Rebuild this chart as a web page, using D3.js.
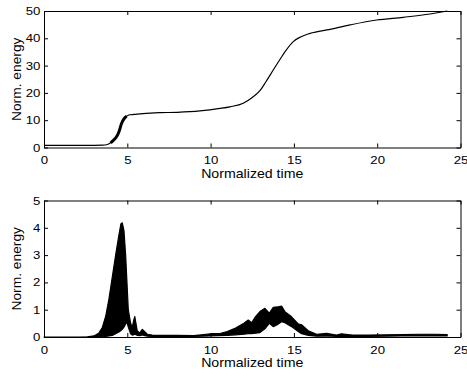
<!DOCTYPE html>
<html>
<head>
<meta charset="utf-8">
<script src="https://cdn.jsdelivr.net/npm/d3@7"></script>
<style>
  html, body { margin: 0; padding: 0; background: #fff; }
  svg { display: block; }
  text { font-family: "Liberation Sans", Arial, Helvetica, sans-serif; fill: #000; }
</style>
</head>
<body>
<script>
let width = 467;
let height = 377;

// top panel: accumulated energy
let energyT = [0, 3.0, 3.5, 3.76, 4.0, 4.2, 4.36, 4.5, 4.66, 4.8, 4.96, 5.16, 5.4, 5.76, 6.4, 6.96, 8.0, 9.36, 10.56, 11.16,
  11.96, 12.5, 12.96, 13.3, 13.76, 14.2, 14.47, 14.96, 15.4, 15.97, 17.17, 18.37, 19.97, 21.57, 23.17, 24.2];
let energy = [0.8, 0.8, 0.85, 1.0, 1.7, 2.8, 4.0, 5.8, 8.9, 10.5, 11.5, 12.0, 12.1, 12.3, 12.6, 12.75, 12.9, 13.4, 14.3, 14.9,
  16.2, 18.3, 20.8, 23.9, 28.4, 32.6, 35.1, 38.8, 40.5, 41.8, 43.3, 44.9, 46.7, 47.7, 48.9, 50.0];

// bottom panel: oscillating energy, upper and lower envelope
let bandT = [0, 2.0, 2.6, 3.0, 3.3, 3.5, 3.7, 3.9, 4.1, 4.3, 4.5, 4.62, 4.7, 4.8, 4.9, 4.98, 5.06, 5.2, 5.3, 5.38,
  5.45, 5.52, 5.6, 5.75, 5.9, 6.0, 6.2, 6.5, 7.0, 8.0, 9.0, 10.0, 10.5, 11.0, 11.5, 12.0, 12.26, 12.46, 12.7, 12.96,
  13.26, 13.52, 13.76, 14.0, 14.26, 14.46, 14.86, 15.26, 15.46, 15.86, 16.36, 16.96, 17.56, 17.86, 18.5, 19.5, 20.5, 21.5, 22.5, 23.5, 24.2];
let bandHi = [0, 0, 0.01, 0.04, 0.15, 0.35, 0.75, 1.4, 2.2, 3.0, 3.75, 4.15, 4.18, 3.9, 3.0, 2.0, 1.0, 0.5, 0.35, 0.6,
  0.75, 0.5, 0.22, 0.15, 0.28, 0.22, 0.1, 0.07, 0.06, 0.06, 0.05, 0.12, 0.12, 0.2, 0.33, 0.5, 0.62, 0.52, 0.75, 0.93,
  1.05, 0.87, 1.09, 1.1, 1.13, 0.93, 0.74, 0.48, 0.45, 0.23, 0.1, 0.13, 0.07, 0.12, 0.07, 0.07, 0.08, 0.09, 0.1, 0.1, 0.09];
let bandLo = [0, 0, 0, 0, 0, 0.01, 0.02, 0.04, 0.06, 0.12, 0.18, 0.24, 0.28, 0.36, 0.48, 0.54, 0.36, 0.12, 0.07, 0.08,
  0.1, 0.08, 0.06, 0.05, 0.08, 0.06, 0.03, 0.02, 0.02, 0.02, 0.02, 0.04, 0.05, 0.06, 0.08, 0.1, 0.12, 0.12, 0.14, 0.16,
  0.3, 0.5, 0.38, 0.45, 0.56, 0.52, 0.38, 0.2, 0.12, 0.06, 0.03, 0.04, 0.02, 0.03, 0.02, 0.02, 0.03, 0.04, 0.05, 0.04, 0.04];

let xTicks = [0, 5, 10, 15, 20, 25];
let yTicksTop = [0, 10, 20, 30, 40, 50];
let yTicksBot = [0, 1, 2, 3, 4, 5];
let xLabel = 'Normalized time';
let yLabel = 'Norm. energy';

let svg = d3.select('body').append('svg')
  .attr('width', width)
  .attr('height', height);

let x = d3.scaleLinear().domain([0, 25]).range([44, 460.5]);

let panels = [
  { top: 11, bottom: 147.5, max: 50, ticks: yTicksTop },
  { top: 200.5, bottom: 337, max: 5, ticks: yTicksBot },
];
panels.forEach((p) => {
  p.y = d3.scaleLinear().domain([0, p.max]).range([p.bottom, p.top]);
});

let fmt = d3.format('d');

function frame(p) {
  let g = svg.append('g');

  g.append('g')
    .attr('transform', `translate(0,${p.bottom})`)
    .call(d3.axisBottom(x).tickValues(xTicks).tickFormat(fmt).tickSizeInner(-4).tickSizeOuter(0).tickPadding(9));
  g.append('g')
    .attr('transform', `translate(0,${p.top})`)
    .call(d3.axisTop(x).tickValues(xTicks).tickSizeInner(-4).tickSizeOuter(0).tickFormat(''));
  g.append('g')
    .attr('transform', `translate(${x.range()[0]},0)`)
    .call(d3.axisLeft(p.y).tickValues(p.ticks).tickFormat(fmt).tickSizeInner(-4).tickSizeOuter(0).tickPadding(3));
  g.append('g')
    .attr('transform', `translate(${x.range()[1]},0)`)
    .call(d3.axisRight(p.y).tickValues(p.ticks).tickSizeInner(-4).tickSizeOuter(0).tickFormat(''));

  g.selectAll('.domain, .tick line')
    .attr('stroke', '#000')
    .attr('stroke-width', 1);
  g.selectAll('.tick text')
    .attr('font-size', 11)
    .attr('font-family', null)
    .attr('transform', 'scale(1.2,1)');

  g.append('text')
    .attr('text-anchor', 'middle')
    .attr('font-size', 12)
    .attr('transform', `translate(${(x.range()[0] + x.range()[1]) / 2},${p.bottom + 30}) scale(1.18,1)`)
    .text(xLabel);
  g.append('text')
    .attr('text-anchor', 'middle')
    .attr('font-size', 12)
    .attr('transform', `translate(21,${(p.top + p.bottom) / 2}) rotate(-90) scale(1.15,1)`)
    .text(yLabel);
}

// top panel
let pt = panels[0];
let line = d3.line()
  .x((d) => x(d[0]))
  .y((d) => pt.y(d[1]))
  .curve(d3.curveMonotoneX);
let pts = energyT.map((t, i) => [t, energy[i]]);
svg.append('path')
  .attr('d', line(pts))
  .attr('fill', 'none')
  .attr('stroke', '#000')
  .attr('stroke-width', 1.2);
// oscillating part of the rise draws thicker
svg.append('path')
  .attr('d', line(pts.filter((d) => d[0] >= 3.9 && d[0] <= 5.0)))
  .attr('fill', 'none')
  .attr('stroke', '#000')
  .attr('stroke-width', 3);
frame(pt);

// bottom panel
let pb = panels[1];
let area = d3.area()
  .x((d) => x(d.t))
  .y0((d) => pb.y(d.lo))
  .y1((d) => pb.y(d.hi));
let band = bandT.map((t, i) => ({ t: t, hi: bandHi[i], lo: bandLo[i] }));
svg.append('path')
  .attr('d', area(band))
  .attr('fill', '#000')
  .attr('stroke', '#000')
  .attr('stroke-width', 1.2)
  .attr('stroke-linejoin', 'round');
frame(pb);
</script>
</body>
</html>
